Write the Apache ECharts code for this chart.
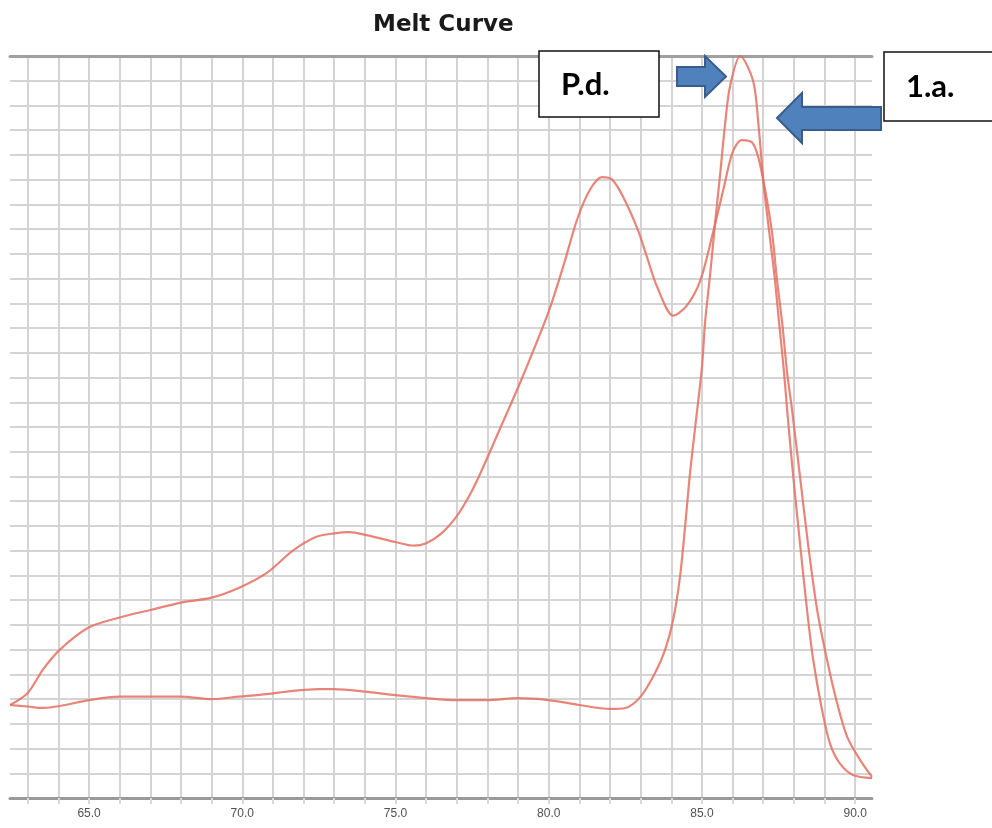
<!DOCTYPE html>
<html>
<head>
<meta charset="utf-8">
<script src="https://cdn.jsdelivr.net/npm/echarts@6/dist/echarts.min.js"></script>
<style>
html,body{margin:0;padding:0;background:#fff;}
#chart{width:992px;height:828px;}
</style>
</head>
<body>
<div id="chart"></div>
<script>
// Temperatures (°C) and melt-curve values for the two traces
var tempA = [62.42,63.0,63.5,64.05,65.0,66.0,67.0,68.0,69.0,69.9,70.8,71.65,72.4,73.0,73.5,74.05,75.0,75.6,76.0,76.5,77.0,77.4,77.76,78.4,79.07,79.6,80.05,80.5,80.93,81.35,81.74,82.07,82.43,82.9,83.2,83.54,84.07,84.5,84.94,85.33,85.7,86.0,86.3,86.64,86.84,87.06,87.29,87.45,87.62,87.78,87.94,88.2,88.46,88.76,89.08,89.41,89.74,90.16,90.55];
var valA  = [3.76,4.25,5.2,6.0,6.9,7.3,7.6,7.9,8.1,8.5,9.1,10.0,10.55,10.7,10.75,10.63,10.35,10.2,10.3,10.7,11.4,12.2,13.1,14.9,16.8,18.4,19.85,21.6,23.4,24.6,25.1,25.0,24.3,23.0,21.9,20.66,19.5,19.9,20.9,22.7,24.6,26.1,26.6,26.5,25.9,24.6,22.85,20.95,19.2,17.2,15.7,13.0,10.3,7.6,5.6,3.84,2.47,1.54,0.85];

var tempB = [62.42,63.0,63.5,64.05,65.0,66.0,67.0,68.0,69.0,69.9,70.8,71.65,72.5,73.0,74.0,75.0,76.0,77.0,78.0,79.0,80.0,81.0,82.0,82.5,83.0,83.47,83.8,84.06,84.28,84.45,84.6,84.78,85.0,85.1,85.27,85.43,85.6,85.76,85.92,86.25,86.67,86.84,87.0,87.16,87.36,87.52,87.68,87.78,87.98,88.2,88.43,88.63,88.92,89.18,89.5,89.93,90.55];
var valB  = [3.76,3.7,3.64,3.72,3.96,4.1,4.1,4.1,4.0,4.1,4.2,4.33,4.4,4.4,4.3,4.16,4.04,3.96,3.96,4.04,3.96,3.76,3.6,3.64,4.1,5.05,6.0,7.2,8.9,10.96,13.0,15.0,17.4,19.2,21.2,23.25,25.3,27.3,28.8,30.0,29.0,27.3,25.0,23.25,21.2,19.2,17.2,15.7,13.0,10.3,7.6,5.6,3.56,2.2,1.4,0.93,0.8];

var xTicks  = [63,64,65,66,67,68,69,70,71,72,73,74,75,76,77,78,79,80,81,82,83,84,85,86,87,88,89,90];
var xLabels = [65,70,75,80,85,90];

function pairs(t, v){ return t.map(function(x,i){ return [x, v[i]]; }); }

var chart = echarts.init(document.getElementById('chart'), null, {renderer:'canvas'});
var lineColor = 'rgba(228,112,96,0.85)';

var option = {
  animation: false,
  backgroundColor: '#ffffff',
  title: {
    text: 'Melt Curve',
    left: 368, top: 9,
    textStyle: {fontFamily: 'DejaVu Sans', fontWeight: 'bold', fontSize: 23, color: '#1a1a1a'}
  },
  grid: {left: 10, right: 120, top: 56, bottom: 30},
  xAxis: [{
    type: 'value', position: 'bottom',
    min: 62.42, max: 90.55,
    axisLine: {show: true, lineStyle: {color: '#9a9a9a', width: 3}},
    axisTick: {show: true, customValues: xTicks, length: 6, lineStyle: {color: '#dadada', width: 2}},
    axisLabel: {show: true, customValues: xLabels, margin: 10, fontSize: 12, color: '#505050',
      fontFamily: 'Liberation Sans', formatter: function(v){ return Number(v).toFixed(1); }},
    splitLine: {show: true, lineStyle: {color: '#d4d4d4', width: 2}}
  }, {
    type: 'value', position: 'top',
    min: 62.42, max: 90.55,
    axisLine: {show: true, lineStyle: {color: '#a0a0a0', width: 3}},
    axisTick: {show: false}, axisLabel: {show: false}, splitLine: {show: false}
  }],
  yAxis: {
    type: 'value', min: 0, max: 30, interval: 1,
    axisLine: {show: false}, axisTick: {show: false}, axisLabel: {show: false},
    splitLine: {show: true, lineStyle: {color: '#d4d4d4', width: 2}}
  },
  series: [{
    name: 'A', type: 'line', xAxisIndex: 0, data: pairs(tempA, valA),
    smooth: 0.3, showSymbol: false, symbol: 'none',
    lineStyle: {color: lineColor, width: 2.2}, z: 3
  }, {
    name: 'B', type: 'line', xAxisIndex: 0, data: pairs(tempB, valB),
    smooth: 0.3, showSymbol: false, symbol: 'none',
    lineStyle: {color: lineColor, width: 2.2}, z: 3
  }],
  graphic: [
    {type: 'rect', shape: {x: 539, y: 51, width: 120, height: 66},
     style: {fill: '#ffffff', stroke: '#111', lineWidth: 1.5}, z: 100},
    {type: 'text', x: 561, y: 85,
     style: {text: 'P.d.', fill: '#000', font: 'bold 31px Lato', verticalAlign: 'middle', textAlign: 'left'}, z: 101},
    {type: 'rect', shape: {x: 884, y: 52, width: 112, height: 69},
     style: {fill: '#ffffff', stroke: '#111', lineWidth: 1.5}, z: 100},
    {type: 'text', x: 906, y: 87,
     style: {text: '1.a.', fill: '#000', font: 'bold 31px Lato', verticalAlign: 'middle', textAlign: 'left'}, z: 101},
    {type: 'polygon', shape: {points: [[677,67],[705,67],[705,56],[726,76.5],[705,97],[705,86],[677,86]]},
     style: {fill: '#4f81bd', stroke: '#385d8a', lineWidth: 2}, z: 100},
    {type: 'polygon', shape: {points: [[881,107],[802,107],[802,93],[777,118],[802,143],[802,130],[881,130]]},
     style: {fill: '#4f81bd', stroke: '#385d8a', lineWidth: 2}, z: 100}
  ]
};
chart.setOption(option);
</script>
</body>
</html>
